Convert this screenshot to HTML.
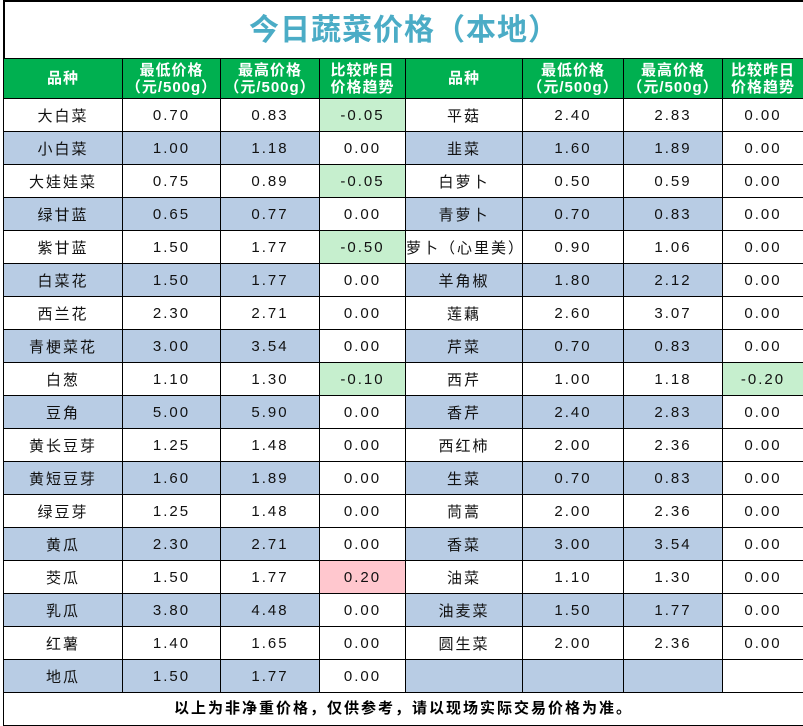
<!DOCTYPE html>
<html><head><meta charset="utf-8"><style>
body{margin:0;background:#fff;width:803px;height:726px;overflow:hidden;font-family:"Liberation Sans","Noto Sans CJK SC",sans-serif;}
.wrap{position:absolute;left:3px;top:0;width:800px;}
.title{height:58px;border-left:2px solid #000;border-top:2px solid #000;box-sizing:border-box;text-align:center;font-size:30px;font-weight:bold;color:#4bacc6;line-height:58px;letter-spacing:1px;padding-right:0}
table{border-collapse:collapse;table-layout:fixed;width:800px;}
td{border:1px solid #000;height:32px;padding:0;text-align:center;font-size:15px;color:#111;letter-spacing:2px;white-space:nowrap;overflow:hidden}
tr.h td{background:#00b050;color:#fff;font-weight:bold;height:39px;line-height:17px;font-size:15px;letter-spacing:1px}
.b{background:#b8cce4}.g{background:#c6efce}.r{background:#ffc7ce}
.foot{height:33px;border-left:1px solid #000;border-bottom:1px solid #000;box-sizing:border-box;text-align:center;font-weight:bold;font-size:15px;line-height:32px;letter-spacing:2px}
</style></head><body><div class="wrap">
<div class="title">今日蔬菜价格（本地）</div>
<table>
<colgroup><col style="width:119px"><col style="width:98px"><col style="width:99px"><col style="width:86px"><col style="width:117px"><col style="width:101px"><col style="width:99px"><col style="width:81px"></colgroup>
<tr class="h"><td>品种</td><td>最低价格<br>（元/500g）</td><td>最高价格<br>（元/500g）</td><td>比较昨日<br>价格趋势</td><td>品种</td><td>最低价格<br>（元/500g）</td><td>最高价格<br>（元/500g）</td><td>比较昨日<br>价格趋势</td></tr>
<tr><td>大白菜</td><td>0.70</td><td>0.83</td><td class="g">-0.05</td><td>平菇</td><td>2.40</td><td>2.83</td><td>0.00</td></tr>
<tr><td class="b">小白菜</td><td class="b">1.00</td><td class="b">1.18</td><td>0.00</td><td class="b">韭菜</td><td class="b">1.60</td><td class="b">1.89</td><td>0.00</td></tr>
<tr><td>大娃娃菜</td><td>0.75</td><td>0.89</td><td class="g">-0.05</td><td>白萝卜</td><td>0.50</td><td>0.59</td><td>0.00</td></tr>
<tr><td class="b">绿甘蓝</td><td class="b">0.65</td><td class="b">0.77</td><td>0.00</td><td class="b">青萝卜</td><td class="b">0.70</td><td class="b">0.83</td><td>0.00</td></tr>
<tr><td>紫甘蓝</td><td>1.50</td><td>1.77</td><td class="g">-0.50</td><td>萝卜（心里美）</td><td>0.90</td><td>1.06</td><td>0.00</td></tr>
<tr><td class="b">白菜花</td><td class="b">1.50</td><td class="b">1.77</td><td>0.00</td><td class="b">羊角椒</td><td class="b">1.80</td><td class="b">2.12</td><td>0.00</td></tr>
<tr><td>西兰花</td><td>2.30</td><td>2.71</td><td>0.00</td><td>莲藕</td><td>2.60</td><td>3.07</td><td>0.00</td></tr>
<tr><td class="b">青梗菜花</td><td class="b">3.00</td><td class="b">3.54</td><td>0.00</td><td class="b">芹菜</td><td class="b">0.70</td><td class="b">0.83</td><td>0.00</td></tr>
<tr><td>白葱</td><td>1.10</td><td>1.30</td><td class="g">-0.10</td><td>西芹</td><td>1.00</td><td>1.18</td><td class="g">-0.20</td></tr>
<tr><td class="b">豆角</td><td class="b">5.00</td><td class="b">5.90</td><td>0.00</td><td class="b">香芹</td><td class="b">2.40</td><td class="b">2.83</td><td>0.00</td></tr>
<tr><td>黄长豆芽</td><td>1.25</td><td>1.48</td><td>0.00</td><td>西红柿</td><td>2.00</td><td>2.36</td><td>0.00</td></tr>
<tr><td class="b">黄短豆芽</td><td class="b">1.60</td><td class="b">1.89</td><td>0.00</td><td class="b">生菜</td><td class="b">0.70</td><td class="b">0.83</td><td>0.00</td></tr>
<tr><td>绿豆芽</td><td>1.25</td><td>1.48</td><td>0.00</td><td>茼蒿</td><td>2.00</td><td>2.36</td><td>0.00</td></tr>
<tr><td class="b">黄瓜</td><td class="b">2.30</td><td class="b">2.71</td><td>0.00</td><td class="b">香菜</td><td class="b">3.00</td><td class="b">3.54</td><td>0.00</td></tr>
<tr><td>茭瓜</td><td>1.50</td><td>1.77</td><td class="r">0.20</td><td>油菜</td><td>1.10</td><td>1.30</td><td>0.00</td></tr>
<tr><td class="b">乳瓜</td><td class="b">3.80</td><td class="b">4.48</td><td>0.00</td><td class="b">油麦菜</td><td class="b">1.50</td><td class="b">1.77</td><td>0.00</td></tr>
<tr><td>红薯</td><td>1.40</td><td>1.65</td><td>0.00</td><td>圆生菜</td><td>2.00</td><td>2.36</td><td>0.00</td></tr>
<tr><td class="b">地瓜</td><td class="b">1.50</td><td class="b">1.77</td><td>0.00</td><td class="b"></td><td class="b"></td><td class="b"></td><td></td></tr>
</table>
<div class="foot">以上为非净重价格，仅供参考，请以现场实际交易价格为准。</div>
</div></body></html>
